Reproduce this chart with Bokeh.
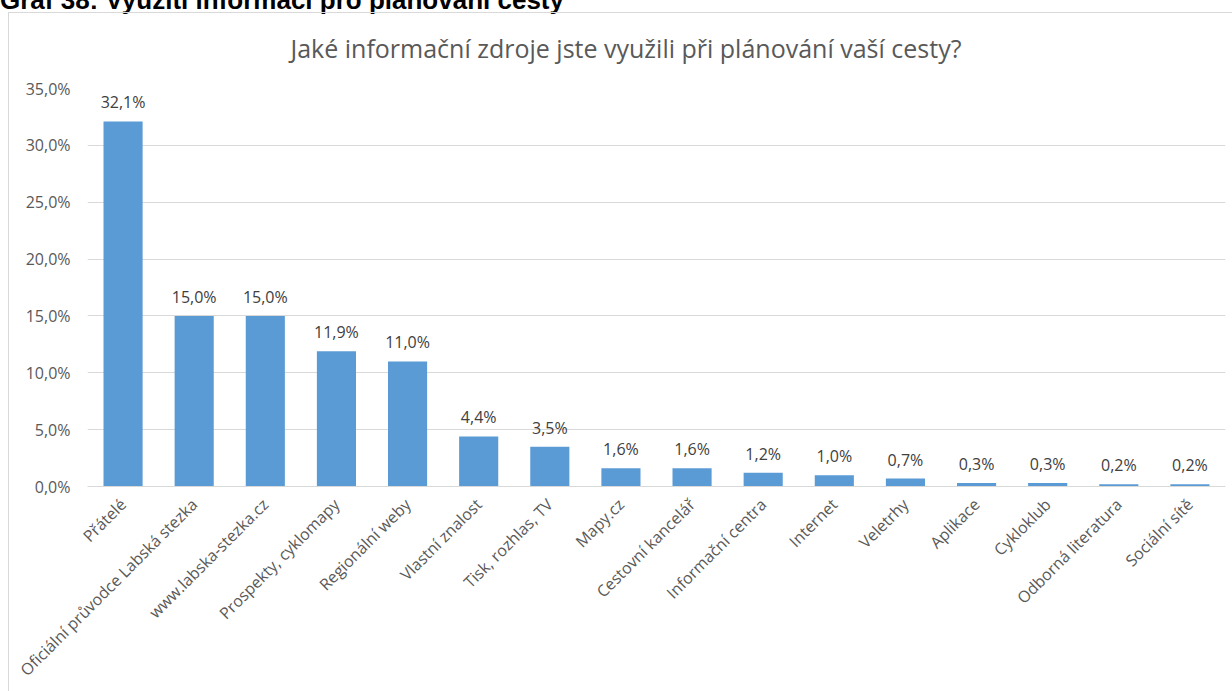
import math
from bokeh.plotting import figure
from bokeh.models import Range1d, FixedTicker, Div
from bokeh.layouts import column
from bokeh.core.properties import value
from bokeh.embed import file_html
from bokeh.resources import INLINE

categories = ["Přátelé", "Oficiální průvodce Labská stezka", "www.labska-stezka.cz",
              "Prospekty, cyklomapy", "Regionální weby", "Vlastní znalost",
              "Tisk, rozhlas, TV", "Mapy.cz", "Cestovní kancelář", "Informační centra",
              "Internet", "Veletrhy", "Aplikace", "Cykloklub", "Odborná literatura",
              "Sociální sítě"]
values = [32.1, 15.0, 15.0, 11.9, 11.0, 4.4, 3.5, 1.6, 1.6, 1.2, 1.0, 0.7, 0.3, 0.3, 0.2, 0.2]
y_ticks = [0, 5, 10, 15, 20, 25, 30, 35]
y_tick_labels = ["0,0%", "5,0%", "10,0%", "15,0%", "20,0%", "25,0%", "30,0%", "35,0%"]
chart_title = "Jaké informační zdroje jste využili při plánování vaší cesty?"
heading = "Graf 38: Využití informací pro plánování cesty"

FONT = "Open Sans"
W, H = 1232, 691
GRID = "#d9d9d9"

p = figure(width=W, height=H, x_range=categories, y_range=Range1d(0, 35),
           output_backend="svg", toolbar_location=None,
           min_border_left=87, min_border_right=7, min_border_top=88, min_border_bottom=204)
p.outline_line_color = None
p.background_fill_color = None
p.border_fill_color = None
p.styles = {
    "background": (f"linear-gradient({GRID},{GRID}) 8px 12px / 1px 100% no-repeat, "
                   f"linear-gradient({GRID},{GRID}) 8px 12px / 100% 1px no-repeat"),
}

p.title.text = chart_title
p.title.align = "left"
p.title.offset = 203
p.title.text_font = FONT
p.title.text_font_size = "25px"
p.title.text_font_style = "normal"
p.title.text_color = "#595959"
p.title.standoff = 48

labels = [f"{v:.1f}".replace(".", ",") + "%" for v in values]
p.vbar(x=categories, top=values, width=0.55, color="#5b9bd5", line_color=None)
p.text(x=categories, y=values, text=labels, text_align="center", text_baseline="bottom",
       y_offset=-8, text_font=value(FONT), text_font_size="16px", text_color="#404040")

p.yaxis.ticker = FixedTicker(ticks=y_ticks)
p.yaxis.major_label_overrides = {t: l for t, l in zip(y_ticks, y_tick_labels)}
p.yaxis.axis_line_color = None
p.yaxis.major_tick_line_color = None
p.yaxis.minor_tick_line_color = None
p.yaxis.major_label_standoff = 11
p.yaxis.major_label_text_font = FONT
p.yaxis.major_label_text_font_size = "16px"
p.yaxis.major_label_text_color = "#595959"

p.xaxis.axis_line_color = GRID
p.xaxis.axis_line_width = 1
p.xaxis.major_tick_line_color = None
p.xaxis.minor_tick_line_color = None
p.xaxis.major_label_orientation = math.pi / 4
p.xaxis.major_label_standoff = 9
p.xaxis.major_label_text_font = FONT
p.xaxis.major_label_text_font_size = "16px"
p.xaxis.major_label_text_color = "#595959"

p.xgrid.grid_line_color = None
p.ygrid.grid_line_color = GRID
p.ygrid.grid_line_width = 1

head = Div(text=heading, width=W, height=30, margin=(-18, 0, -12, 0),
           styles={"font-family": "Liberation Sans", "font-weight": "bold",
                   "font-size": "26px", "color": "black", "line-height": "36px",
                   "white-space": "nowrap"})

layout = column(head, p, spacing=0, styles={"background": "white"})
open("out.html", "w").write(file_html(layout, INLINE))
